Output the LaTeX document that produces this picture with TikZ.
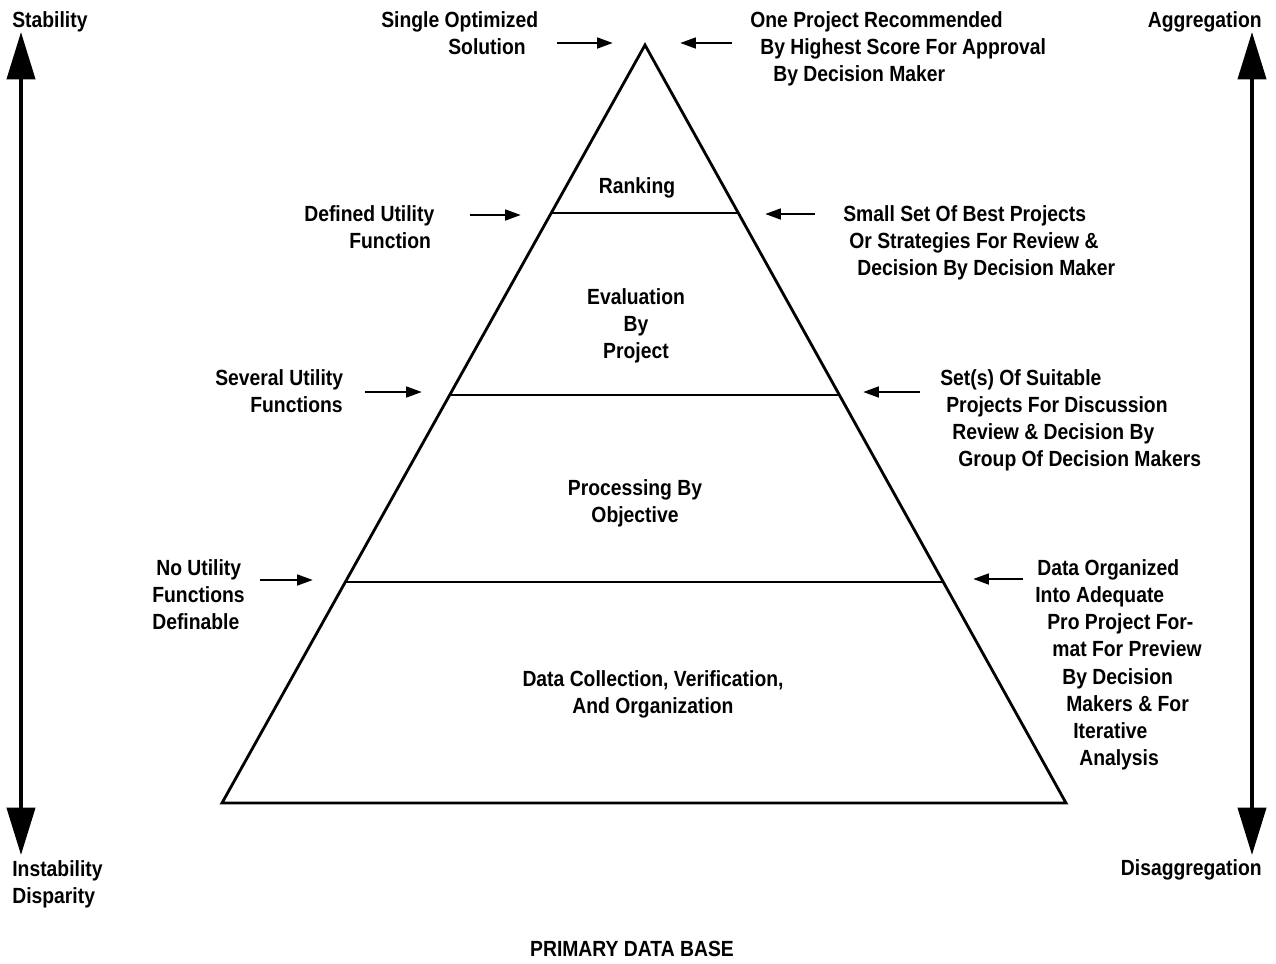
\documentclass[tikz,border=0pt]{standalone}
\usepackage{fontspec}
\setmainfont{Liberation Sans}[FakeStretch=0.88]
\usetikzlibrary{arrows.meta,calc}
\newlength\pxu \setlength\pxu{0.02cm}
\newcommand\ind[1]{\hspace*{#1\pxu}}

\begin{document}
\begin{tikzpicture}[x=0.02cm,y=-0.02cm,
	txt/.style={font=\bfseries\fontsize{12.5}{15.5}\selectfont, inner sep=0pt, align=left, anchor=north west},
	ctxt/.style={txt, align=center, anchor=north},
	ptr/.style={line width=1.6pt, -{Triangle[length=9pt,width=6pt]}},
	axisarrow/.style={line width=2.2pt, {Triangle[length=27pt,width=16pt]}-{Triangle[length=27pt,width=16pt]}},
	edge/.style={line width=1.6pt, line join=miter}]
	\useasboundingbox (0,0) rectangle (1276,964);
	% pyramid
	\coordinate (apex) at (645,45);
	\coordinate (baseW) at (222,803);
	\coordinate (baseE) at (1066,803);
	\draw[edge] (baseW) -- (apex) -- (baseE) -- cycle;
	\foreach \t/\n in {0.2216/one,0.4617/two,0.7084/three}
		\draw[edge] ($(apex)!\t!(baseW)$) coordinate (lvl\n W) -- ($(apex)!\t!(baseE)$) coordinate (lvl\n E);
	% side scales
	\coordinate (stabtop) at (21,32);
	\coordinate (stabbot) at (21,855);
	\coordinate (aggtop) at (1252,32);
	\coordinate (aggbot) at (1252,855);
	\draw[axisarrow] (stabtop) -- (stabbot);
	\draw[axisarrow] (aggtop) -- (aggbot);
	% labels
	\node[txt] (stab) at (12,11) {Stability};
	\node[txt, anchor=north east] (aggr) at (1262,11) {Aggregation};
	\node[txt] (single) at (381,11) {Single Optimized\\\ind{67}Solution};
	\node[txt] (onepr) at (750,11) {One Project Recommended\\\ind{10}By Highest Score For Approval\\\ind{23}By Decision Maker};
	\node[ctxt] (rank) at (637,177) {Ranking};
	\node[txt] (defu) at (304,205) {Defined Utility\\\ind{45}Function};
	\node[txt] (small) at (843,205) {Small Set Of Best Projects\\\ind{6}Or Strategies For Review \&\\\ind{14}Decision By Decision Maker};
	\node[ctxt] (eval) at (636,288) {Evaluation\\By\\Project};
	\node[txt] (sevu) at (215,369) {Several Utility\\\ind{35}Functions};
	\node[txt] (sets) at (940,369) {Set(s) Of Suitable\\\ind{6}Projects For Discussion\\\ind{12}Review \& Decision By\\\ind{18}Group Of Decision Makers};
	\node[ctxt] (proc) at (635,479) {Processing By\\Objective};
	\node[txt] (nou) at (152,559) {\ind{4}No Utility\\Functions\\Definable};
	\node[txt] (dorg) at (1035,559) {\ind{2}Data Organized\\Into Adequate\\\ind{12}Pro Project For-\\\ind{17}mat For Preview\\\ind{27}By Decision\\\ind{31}Makers \& For\\\ind{38}Iterative\\\ind{44}Analysis};
	\node[ctxt] (dcol) at (653,670) {Data Collection, Verification,\\And Organization};
	\node[txt] (instab) at (12,860) {Instability\\Disparity};
	\node[txt, anchor=north east] (disag) at (1262,859) {Disaggregation};
	\node[ctxt] (pdb) at (632,941) {PRIMARY DATA BASE};
	% pointers
	\coordinate (p1s) at (557,43);  \coordinate (p1e) at (613,43);
	\coordinate (p2s) at (732,43);  \coordinate (p2e) at (680,43);
	\coordinate (p3s) at (470,215); \coordinate (p3e) at (521,215);
	\coordinate (p4s) at (815,214); \coordinate (p4e) at (765,214);
	\coordinate (p5s) at (365,392); \coordinate (p5e) at (422,392);
	\coordinate (p6s) at (920,392); \coordinate (p6e) at (863,392);
	\coordinate (p7s) at (260,580); \coordinate (p7e) at (313,580);
	\coordinate (p8s) at (1023,579); \coordinate (p8e) at (973,579);
	\foreach \n in {1,...,8}
		\draw[ptr] (p\n s) -- (p\n e);
\end{tikzpicture}
\end{document}
